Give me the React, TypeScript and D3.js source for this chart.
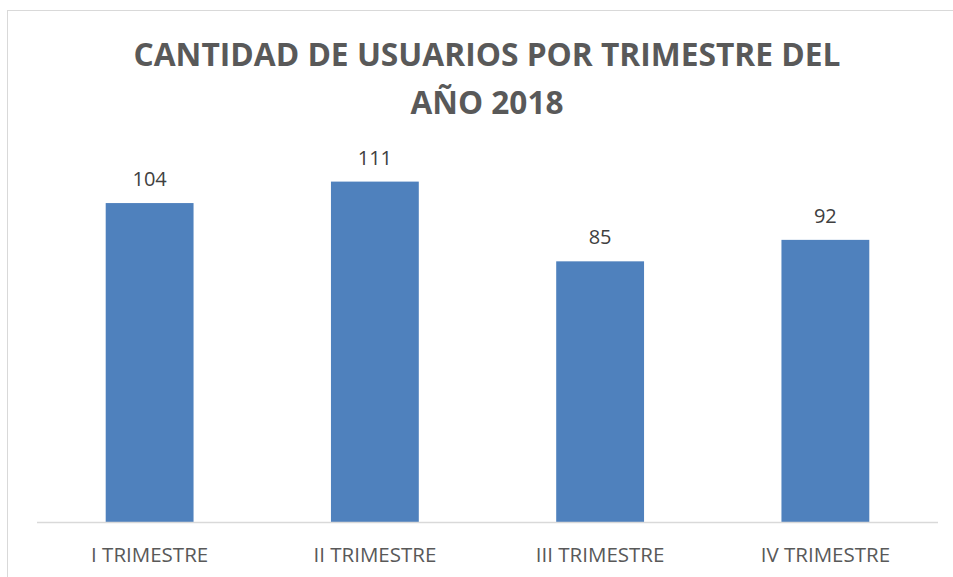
import React from "react";
import * as d3 from "d3";

const categories = ["I TRIMESTRE", "II TRIMESTRE", "III TRIMESTRE", "IV TRIMESTRE"];
const usuarios = [104, 111, 85, 92];
const titleLines = ["CANTIDAD DE USUARIOS POR TRIMESTRE DEL", "AÑO 2018"];
const yMax = 120;

const W = 953;
const H = 577;

export default function App() {
  const x = d3
    .scaleBand<string>()
    .domain(categories)
    .range([37, 938])
    .paddingInner(0.61)
    .paddingOuter(0.305);
  const y = d3.scaleLinear().domain([0, yMax]).range([522, 154]);
  const font = "'Open Sans', 'DejaVu Sans', sans-serif";

  return (
    <>
      <style>{`body{margin:0;} svg{display:block;}`}</style>
      <svg width={W} height={H} viewBox={`0 0 ${W} ${H}`}>
        <rect x={0} y={0} width={W} height={H} fill="#ffffff" />
        <rect x={7.5} y={10.5} width={960} height={620} fill="none" stroke="#D9D9D9" strokeWidth={1} />
        <g fontFamily={font} fontWeight={700} fill="#595959" textAnchor="middle">
          <text x={487} y={66} fontSize={33} textLength={707} lengthAdjust="spacingAndGlyphs">
            {titleLines[0]}
          </text>
          <text x={487} y={114} fontSize={33} textLength={153} lengthAdjust="spacingAndGlyphs">
            {titleLines[1]}
          </text>
        </g>
        <g>
          {categories.map((c, i) => (
            <rect
              key={c}
              x={x(c)!}
              y={y(usuarios[i])}
              width={x.bandwidth()}
              height={y(0) - y(usuarios[i])}
              fill="#4F81BD"
            />
          ))}
        </g>
        <line x1={37} x2={938} y1={y(0) + 0.5} y2={y(0) + 0.5} stroke="#D9D9D9" strokeWidth={1.5} />
        <g fontFamily={font} fontSize={20} fill="#404040" textAnchor="middle">
          {categories.map((c, i) => (
            <text key={c} x={x(c)! + x.bandwidth() / 2} y={y(usuarios[i]) - 17}>
              {usuarios[i]}
            </text>
          ))}
        </g>
        <g fontFamily={font} fontSize={20.5} fill="#595959" textAnchor="middle">
          {categories.map((c) => (
            <text key={c} x={x(c)! + x.bandwidth() / 2} y={562}>
              {c}
            </text>
          ))}
        </g>
      </svg>
    </>
  );
}
